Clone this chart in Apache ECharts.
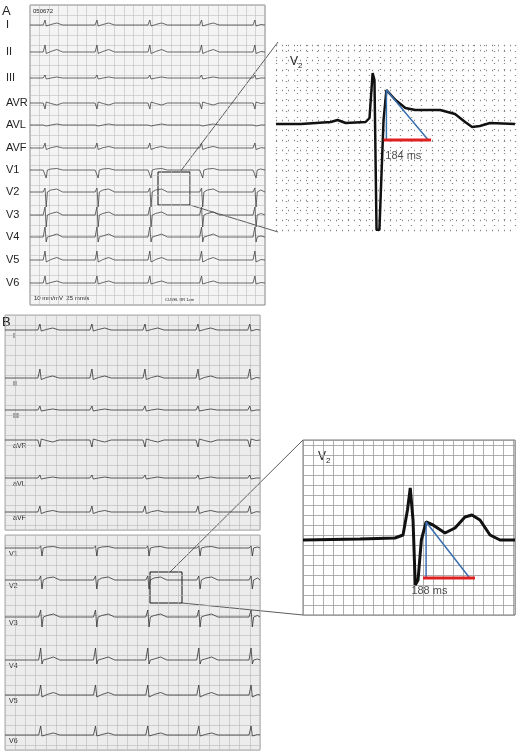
<!DOCTYPE html>
<html><head><meta charset="utf-8">
<script src="https://cdn.jsdelivr.net/npm/echarts@6/dist/echarts.min.js"></script>
<style>html,body{margin:0;padding:0;background:#fff}#c{width:520px;height:752px}</style>
</head><body><div id="c"></div>
<script>
// ---- data ----
const tplTime = [-0.6,-0.45,-0.38,-0.3,-0.08,-0.04,0,0.05,0.1,0.25,0.5,0.75,1.0];
const leadsA = ['I','II','III','AVR','AVL','AVF','V1','V2','V3','V4','V5','V6'];
const baseA = [20,47,73,98,120,143,165,187,210,232,255,278];
const ampA = [
 [0,0,1,0,0,-0.5,5,-1,0,0.5,2,0,0],
 [0,0,1.5,0,0,-0.5,7,-1.5,0,0.5,2.5,0,0],
 [0,0,0.5,0,0,-0.5,3,-1,0,0,1,0,0],
 [0,0,-1,0,0,0.5,-6,1,0,-0.5,-2,0,0],
 [0,0,0.3,0,0,-0.3,2,-1,0,0,1,0,0],
 [0,0,1,0,0,-0.5,5,-1.5,0,0.3,1.5,0,0],
 [0,0,0.7,0,0,0,2,-8,0,1,1.5,0,0],
 [0,0,0.7,0,0,0,4,-15,0,2,3,0,0],
 [0,0,0.7,0,0,0,8,-12,0,1.5,3,0,0],
 [0,0,0.8,0,0,-0.5,10,-5,0,1,3,0,0],
 [0,0,0.8,0,0,-0.5,9,-2,0,0.5,2.5,0,0],
 [0,0,0.8,0,0,-0.5,7,-1,0,0.5,2,0,0]];
const beatsA = [0.64,2.85,5.1,7.3,9.57];
const leadsB1 = ['I','II','III','aVR','aVL','aVF'];
const baseB1 = [15,63,95,125,163,197];
const ampB1 = [
 [0,0,1,0,0,-0.5,6,-1,0,0.5,2,0,0],
 [0,0,1,0,0,-0.5,9,-1.5,0,0.5,2,0,0],
 [0,0,0.5,0,0,-0.5,4,-1,0,0,1,0,0],
 [0,0,-1,0,0,0.5,-7,1,0,-0.5,-2,0,0],
 [0,0,0.3,0,0,-0.3,3,-1,0,0,1,0,0],
 [0,0,1,0,0,-0.5,6,-1.5,0,0.3,1.5,0,0]];
const beatsB1 = [1.37,3.41,5.49,7.57,9.6];
const leadsB2 = ['V1','V2','V3','V4','V5','V6'];
const baseB2 = [13,45,82,125,160,200];
const ampB2 = [
 [0,0,0.7,0,0,0,2,-8,0,1,1.5,0,0],
 [0,0,0.7,0,0,0,4,-9,0,2,3,0,0],
 [0,0,0.7,0,0,0,7,-10,0,1.5,3,0,0],
 [0,0,0.8,0,0,-0.5,12,-4,0,1,3,0,0],
 [0,0,0.8,0,0,-0.5,10,-2,0,0.5,2.5,0,0],
 [0,0,0.8,0,0,-0.5,9,-1,0,0.5,2,0,0]];
const beatsB2 = [1.4,3.55,5.6,7.6,9.65];
// insets: time ms, amplitude mm
const insetA = [[0,-0.1],[96,-0.1],[211,0.1],[237,0.3],[268,0],[345,0.1],[360,0.5],[372,5],[379,4.3],[387,-10.7],[398,-10.7],[414,0.3],[425,3.3],[460,2.3],[498,1.5],[536,1.3],[632,1.3],[689,0.9],[728,0.1],[755,-0.4],[785,-0.3],[824,0],[920,-0.1]];
const insetAblue = [[425,-1.7],[425,3.3],[586,-1.7]];
const insetAred = [[414,-1.7],[597,-1.7]];
const insetB = [[0,0],[205,0.1],[331,0.2],[360,0.5],[376,3],[386,5.2],[396,2],[404,-4.5],[414,-4],[426,0],[443,1.8],[468,1.5],[511,0.7],[547,1.2],[583,2.3],[608,2.5],[637,2],[673,0.5],[709,0],[763,0]];
const insetBblue = [[443,-3.8],[443,1.8],[600,-3.8]];
const insetBred = [[432,-3.8],[619,-3.8]];

function lead(base, amp, beats){
  const d=[[0,base]];
  beats.forEach(b=>tplTime.forEach((t,i)=>{const x=b+t; if(x>=0&&x<=10) d.push([+x.toFixed(3), base-amp[i]]);}));
  d.push([10,base]); return d;
}
const ch = echarts.init(document.getElementById('c'));
const grids=[
 {left:30,top:5,width:235,height:300,show:true,backgroundColor:'#f4f4f4',borderColor:'#888'},
 {left:5,top:315,width:255,height:215,show:true,backgroundColor:'#ececec',borderColor:'#aaa'},
 {left:5,top:535,width:255,height:215,show:true,backgroundColor:'#ececec',borderColor:'#aaa'},
 {left:276,top:45,width:239,height:185,show:true,backgroundColor:'#fff',borderWidth:0},
 {left:303,top:440,width:212,height:175,show:true,backgroundColor:'#fff',borderWidth:0}];
const ecgX = i=>({gridIndex:i,type:'value',min:0,max:10,interval:0.4,axisLine:{show:false},axisTick:{show:false},axisLabel:{show:false},
  splitLine:{lineStyle:{color:i===0?'#bdbdbd':'#b8b8b8',width:0.6}}});
const ecgY = (i,h)=>({gridIndex:i,type:'value',min:0,max:h,interval:10,inverse:true,axisLine:{show:false},axisTick:{show:false},axisLabel:{show:false},
  splitLine:{lineStyle:{color:i===0?'#bdbdbd':'#b8b8b8',width:0.6}}});
const xAxis=[ecgX(0),ecgX(1),ecgX(2),
 {gridIndex:3,type:'value',min:0,max:920,interval:40,show:true,axisLine:{show:false},axisTick:{show:false},axisLabel:{show:false},splitLine:{lineStyle:{color:'#888',type:[1,5],width:1.3}}},
 {gridIndex:4,type:'value',min:0,max:763,interval:36,axisLine:{show:false},axisTick:{show:false},axisLabel:{show:false},splitLine:{lineStyle:{color:'#999',width:0.8}}}];
const yAxis=[ecgY(0,300),ecgY(1,215),ecgY(2,215),
 {gridIndex:3,type:'value',min:-10.7,max:7.8,interval:1,axisLine:{show:false},axisTick:{show:false},axisLabel:{show:false},splitLine:{lineStyle:{color:'#888',type:[1,5],width:1.3}}},
 {gridIndex:4,type:'value',min:-7.5,max:10,interval:1,axisLine:{show:false},axisTick:{show:false},axisLabel:{show:false},splitLine:{lineStyle:{color:'#999',width:0.8}}}];
const series=[];
const ln=(g,data,color,w)=>({type:'line',xAxisIndex:g,yAxisIndex:g,data,symbol:'none',silent:true,animation:false,lineStyle:{color,width:w}});
leadsA.forEach((n,i)=>series.push(ln(0,lead(baseA[i],ampA[i],beatsA),'#444',0.8)));
leadsB1.forEach((n,i)=>series.push(ln(1,lead(baseB1[i],ampB1[i],beatsB1),'#333',0.8)));
leadsB2.forEach((n,i)=>series.push(ln(2,lead(baseB2[i],ampB2[i],beatsB2),'#333',0.8)));
series.push(ln(3,insetA,'#111',2.5), ln(3,insetAblue,'#3a6fb0',1.5), ln(3,insetAred,'#e02020',3));
series.push(ln(4,insetB,'#111',3), ln(4,insetBblue,'#3a6fb0',1.5), ln(4,insetBred,'#e02020',3));
series.push({type:'scatter',xAxisIndex:3,yAxisIndex:3,symbolSize:0,data:[[490,-3.3]],label:{show:true,formatter:'184 ms',color:'#222',fontSize:11,fontFamily:'Liberation Sans'}});
series.push({type:'scatter',xAxisIndex:4,yAxisIndex:4,symbolSize:0,data:[[455,-5.1]],label:{show:true,formatter:'188 ms',color:'#222',fontSize:11,fontFamily:'Liberation Sans'}});
const gfx=[];
const txt=(x,y,t,s,extra)=>gfx.push(Object.assign({type:'text',x,y,style:{text:t,fontSize:s,fill:'#222',fontFamily:'Liberation Sans',textVerticalAlign:'middle'}},extra||{}));
leadsA.forEach((n,i)=>txt(6,5+baseA[i],n,11));
leadsB1.forEach((n,i)=>txt(13,315+baseB1[i]+6,n,7));
leadsB2.forEach((n,i)=>txt(9,535+baseB2[i]+6,n,7));
txt(2,11,'A',13); txt(2,322,'B',13);
txt(33,11,'050672',6); txt(34,298,'10 mm/mV  25 mm/s',6); txt(165,300,'CUVEL RR 1am',4);
gfx.push({type:'text',x:290,y:62,style:{rich:{a:{fontSize:12},b:{fontSize:8,padding:[8,0,0,0]}},text:'{a|V}{b|2}',fill:'#222',fontFamily:'Liberation Sans',textVerticalAlign:'middle'}});
gfx.push({type:'text',x:318,y:457,style:{rich:{a:{fontSize:12},b:{fontSize:8,padding:[8,0,0,0]}},text:'{a|V}{b|2}',fill:'#222',fontFamily:'Liberation Sans',textVerticalAlign:'middle'}});
const seg=(x1,y1,x2,y2)=>gfx.push({type:'line',shape:{x1,y1,x2,y2},style:{stroke:'#333',lineWidth:0.8}});
gfx.push({type:'rect',shape:{x:158,y:172,width:32,height:33},style:{fill:'none',stroke:'#111',lineWidth:1}});
seg(180,172,278,42); seg(190,205,278,232);
gfx.push({type:'rect',shape:{x:150,y:572,width:32,height:31},style:{fill:'none',stroke:'#111',lineWidth:1}});
seg(170,572,303,440); seg(182,603,303,615);
gfx.push({type:'rect',shape:{x:303,y:440,width:212,height:175},style:{fill:'none',stroke:'#555',lineWidth:0.8}});
ch.setOption({animation:false,grid:grids,xAxis,yAxis,series,graphic:gfx});
</script></body></html>
